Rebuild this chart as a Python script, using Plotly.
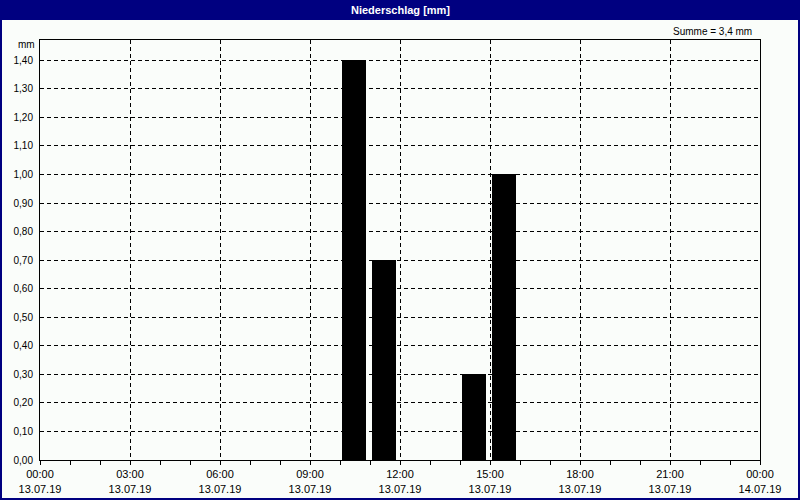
import plotly.graph_objects as go

# Data (hourly precipitation on 13.07.19)
bar_start = ["2019-07-13 10:00", "2019-07-13 11:00", "2019-07-13 14:00", "2019-07-13 15:00"]
precip_mm = [1.4, 0.7, 0.3, 1.0]
tick_times = ["2019-07-13 00:00", "2019-07-13 03:00", "2019-07-13 06:00", "2019-07-13 09:00",
              "2019-07-13 12:00", "2019-07-13 15:00", "2019-07-13 18:00", "2019-07-13 21:00",
              "2019-07-14 00:00"]
tick_labels = ["00:00<br>13.07.19", "03:00<br>13.07.19", "06:00<br>13.07.19", "09:00<br>13.07.19",
               "12:00<br>13.07.19", "15:00<br>13.07.19", "18:00<br>13.07.19", "21:00<br>13.07.19",
               "00:00<br>14.07.19"]
title_text = "Niederschlag [mm]"
sum_text = "Summe = 3,4 mm"
unit_text = "mm"

HOUR_MS = 3600 * 1000
NAVY = "#000080"
BG = "#FAFDFA"
FONT = "Liberation Sans"

fig = go.Figure()
fig.add_trace(go.Bar(
    x=bar_start, y=precip_mm,
    width=0.8 * HOUR_MS, offset=0.07 * HOUR_MS,
    marker=dict(color="#000000", line=dict(width=0)),
    hoverinfo="x+y",
))

W, H = 800, 500
L, R, T, B = 40, 40, 40, 40
pw, ph = W - L - R, H - T - B

def px_x(p):
    return (p - L) / pw

def px_y(p):
    return 1 - (p - T) / ph

shapes = [
    # title bar
    dict(type="rect", xref="paper", yref="paper",
         x0=px_x(0), x1=px_x(W), y0=px_y(0), y1=px_y(20),
         fillcolor=NAVY, line=dict(width=0), layer="above"),
    # window border
    dict(type="rect", xref="paper", yref="paper",
         x0=px_x(1), x1=px_x(W - 1), y0=px_y(1), y1=px_y(H - 1),
         fillcolor="rgba(0,0,0,0)", line=dict(color=NAVY, width=2), layer="above"),
]

annotations = [
    dict(text="<b>" + title_text + "</b>", xref="paper", yref="paper",
         x=0.5, y=px_y(10), showarrow=False, xanchor="center", yanchor="middle",
         font=dict(family=FONT, size=11, color="white")),
    dict(text=sum_text, xref="paper", yref="paper",
         x=px_x(754), y=px_y(31), showarrow=False, xanchor="right", yanchor="middle",
         font=dict(family=FONT, size=10, color="black")),
    dict(text=unit_text, xref="paper", yref="paper",
         x=px_x(37), y=px_y(45), showarrow=False, xanchor="right", yanchor="middle",
         font=dict(family=FONT, size=10, color="black")),
]

fig.update_layout(
    width=W, height=H,
    margin=dict(l=L, r=R, t=T, b=B, autoexpand=False),
    paper_bgcolor=BG, plot_bgcolor=BG,
    separators=",.",
    showlegend=False,
    bargap=0,
    shapes=shapes,
    annotations=annotations,
    font=dict(family=FONT, size=10, color="black"),
)

fig.update_xaxes(
    type="date", automargin=False,
    range=["2019-07-13 00:00", "2019-07-14 00:00"],
    tickmode="array", tickvals=tick_times, ticktext=tick_labels,
    ticks="outside", ticklen=4, tickcolor="black", tickwidth=1,
    minor=dict(dtick=HOUR_MS, ticks="outside", ticklen=4, tickcolor="black", showgrid=False),
    showgrid=True, gridcolor="black", gridwidth=1, griddash="4px,3px",
    showline=True, linecolor="black", linewidth=1, mirror=True,
    zeroline=False,
    tickfont=dict(family=FONT, size=11),
)

fig.update_yaxes(
    automargin=False,
    range=[0, 1.471],
    tick0=0, dtick=0.1, tickformat=".2f",
    ticks="", ticklabelstandoff=4,
    showgrid=True, gridcolor="black", gridwidth=1, griddash="4px,3px",
    showline=True, linecolor="black", linewidth=1, mirror=True,
    zeroline=False,
    tickfont=dict(family=FONT, size=10),
)

fig.write_html(
    "out.html",
    config={"displayModeBar": False},
    post_script="document.body.style.margin='0';document.body.style.padding='0';document.body.style.overflow='hidden';",
)
